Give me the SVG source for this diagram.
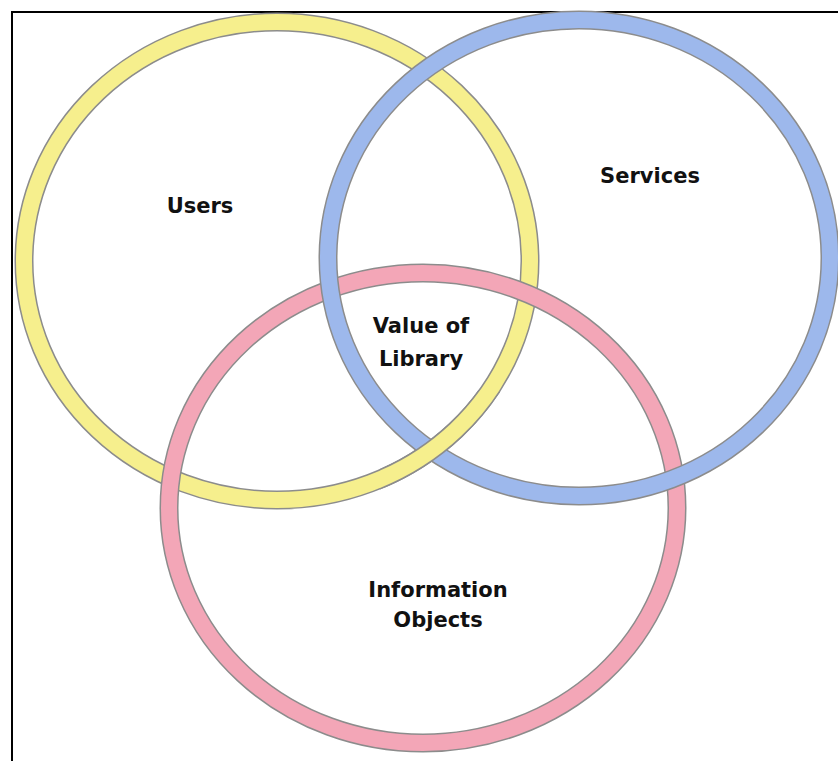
<svg xmlns="http://www.w3.org/2000/svg" width="838" height="761" viewBox="0 0 838 761">
  <style>
    .edge { fill: none; stroke: #8c8c8c; stroke-width: 19; }
    .ring { fill: none; stroke-width: 16; }
    .yellow { stroke: #f6ef8d; }
    .blue { stroke: #9db8ec; }
    .pink { stroke: #f3a6b7; }
    .label { font-family: "DejaVu Sans", Verdana, sans-serif; font-weight: bold; font-size: 21px; fill: #111; text-anchor: middle; }
  </style>
  <defs>
    <!-- region where the yellow ring passes over the blue ring (lower crossing) -->
    <clipPath id="yOverB">
      <rect x="380" y="390" width="120" height="110"/>
    </clipPath>
  </defs>
  <rect x="0" y="0" width="838" height="761" fill="#ffffff"/>
  <!-- frame -->
  <rect x="12" y="12" width="900" height="900" fill="none" stroke="#000" stroke-width="2"/>

  <g id="rings">
    <g id="ring-users">
      <ellipse class="edge" cx="277" cy="261" rx="253" ry="239"/>
      <ellipse class="ring yellow" cx="277" cy="261" rx="253" ry="239"/>
    </g>
    <g id="ring-objects">
      <ellipse class="edge" cx="423" cy="508" rx="254" ry="235"/>
      <ellipse class="ring pink" cx="423" cy="508" rx="254" ry="235"/>
    </g>
    <g id="ring-services">
      <ellipse class="edge" cx="579" cy="258" rx="251" ry="238"/>
      <ellipse class="ring blue" cx="579" cy="258" rx="251" ry="238"/>
    </g>
    <!-- yellow passes over blue at the lower crossing -->
    <g id="ring-users-over" clip-path="url(#yOverB)">
      <ellipse class="edge" cx="277" cy="261" rx="253" ry="239"/>
      <ellipse class="ring yellow" cx="277" cy="261" rx="253" ry="239"/>
    </g>
  </g>

  <g id="users"><text class="label" x="200" y="213">Users</text></g>
  <g id="services"><text class="label" x="650" y="183">Services</text></g>
  <g id="value"><text class="label" x="421" y="333">Value of</text><text class="label" x="421" y="366">Library</text></g>
  <g id="objects"><text class="label" x="438" y="597">Information</text><text class="label" x="438" y="627">Objects</text></g>
</svg>
